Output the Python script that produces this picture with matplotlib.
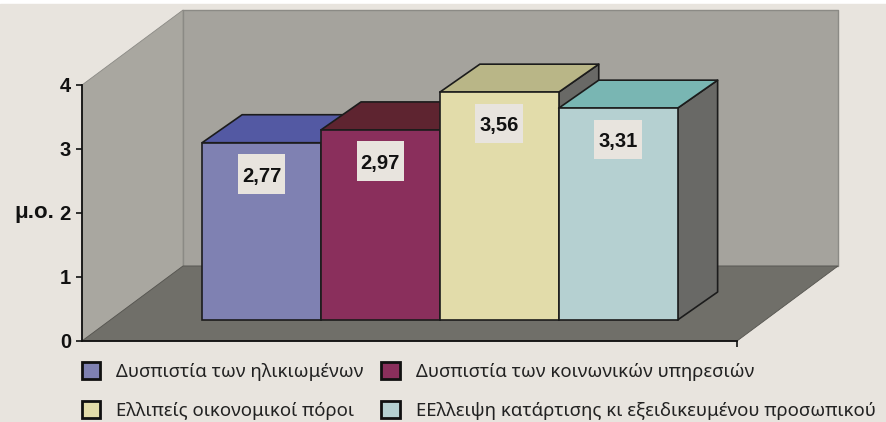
import matplotlib
matplotlib.use("Agg")
import matplotlib.pyplot as plt
from matplotlib.patches import Patch, Polygon, Rectangle

plt.rcParams['font.family'] = ['Noto Sans', 'DejaVu Sans']
bold_font = ['Liberation Sans', 'DejaVu Sans']

categories = ["Δυσπιστία των ηλικιωμένων", "Δυσπιστία των κοινωνικών υπηρεσιών",
              "Ελλιπείς οικονομικοί πόροι", "ΕΕλλειψη κατάρτισης κι εξειδικευμένου προσωπικού"]
values = [2.77, 2.97, 3.56, 3.31]
value_labels = ["2,77", "2,97", "3,56", "3,31"]
yticks = [0, 1, 2, 3, 4]

front_colors = ["#7f81b2", "#8a2f5c", "#e2dcaa", "#b5d0d1"]
top_colors = ["#5359a3", "#5e2430", "#b9b687", "#79b6b3"]
side_color = "#696966"
bg = "#e8e4de"

# depth of the fake 3d box and of the bars, in data units
box_dx, box_dy = 0.85, 1.172
bar_dx, bar_dy = 0.337, 0.4375
bar_base = 0.328
x0, x1 = -1.51, 4.0

fig = plt.figure(figsize=(8.87, 4.22), dpi=100, facecolor="white")
fig.add_artist(Rectangle((0, 0), 1, 418 / 422, transform=fig.transFigure, color=bg, zorder=-5))
ax = fig.add_axes([82 / 887, 81 / 422, 655 / 887, 256 / 422])
ax.patch.set_visible(False)
ax.set_xlim(x0, x1)
ax.set_ylim(0, 4)


def poly(pts, color, edge="none", lw=0.0, z=1):
    ax.add_patch(Polygon(pts, closed=True, facecolor=color, edgecolor=edge, lw=lw,
                         clip_on=False, zorder=z, joinstyle="round"))


# walls and floor
poly([(x0 + box_dx, box_dy), (x1 + box_dx, box_dy), (x1 + box_dx, 4 + box_dy), (x0 + box_dx, 4 + box_dy)],
     "#a5a39d", "#8b8a85", 1.0)
poly([(x0, 0), (x0 + box_dx, box_dy), (x0 + box_dx, 4 + box_dy), (x0, 4)], "#a9a7a0", "#8b8a85", 0.6)
poly([(x0, 0), (x1, 0), (x1 + box_dx, box_dy), (x0 + box_dx, box_dy)], "#706f69", "#55544f", 0.6)

# bars, left to right so later ones cover the earlier side faces
for i, v in enumerate(values):
    left, right = i - 0.5, i + 0.5
    top = bar_base + v
    z = 2 + i
    poly([(right, bar_base), (right + bar_dx, bar_base + bar_dy), (right + bar_dx, top + bar_dy), (right, top)],
         side_color, "#1c1c1c", 1.2, z)
    poly([(left, top), (right, top), (right + bar_dx, top + bar_dy), (left + bar_dx, top + bar_dy)],
         top_colors[i], "#1c1c1c", 1.2, z)
    ax.bar(i, v, width=1.0, bottom=bar_base, color=front_colors[i],
           edgecolor="#1c1c1c", linewidth=1.2, zorder=z, clip_on=False)
    ax.add_patch(Rectangle((i - 0.2, top - 0.8), 0.4, 0.62, facecolor=bg, edgecolor="none", zorder=10))
    ax.text(i, top - 0.49, value_labels[i], ha="center", va="center_baseline", fontsize=14.5, fontweight="bold",
            family=bold_font, color="#111111", zorder=11)

for s in ["top", "right"]:
    ax.spines[s].set_visible(False)
for s in ["left", "bottom"]:
    ax.spines[s].set_linewidth(1.3)
    ax.spines[s].set_color("#111111")
    ax.spines[s].set_zorder(20)
ax.set_xticks([x1])
ax.set_xticklabels([""])
ax.tick_params(axis="x", length=4, width=1.2, color="#111111")
ax.set_yticks(yticks)
ax.set_yticklabels([str(t) for t in yticks], fontsize=14.5, fontweight="bold", family=bold_font, color="#111111")
ax.tick_params(axis="y", length=4, width=1.2, color="#111111", pad=4)
ax.set_ylabel("μ.ο.", rotation=0, fontsize=16, fontweight="bold", family=bold_font, color="#111111",
              labelpad=18, va="center")

# legend fills by column, so swap the order to get the same rows
order = [0, 2, 1, 3]
handles = [Patch(facecolor=front_colors[i], edgecolor="#111111", linewidth=2) for i in order]
fig.legend(handles, [categories[i] for i in order], ncols=2, frameon=False,
           loc="upper left", bbox_to_anchor=(82 / 887, 1 - 362 / 422), borderaxespad=0, borderpad=0,
           fontsize=13.4, labelcolor="#222222", handlelength=0.98, handleheight=1.05,
           handletextpad=0.85, columnspacing=0.97, labelspacing=1.05)

fig.savefig("out.png", dpi=100, facecolor=fig.get_facecolor())
